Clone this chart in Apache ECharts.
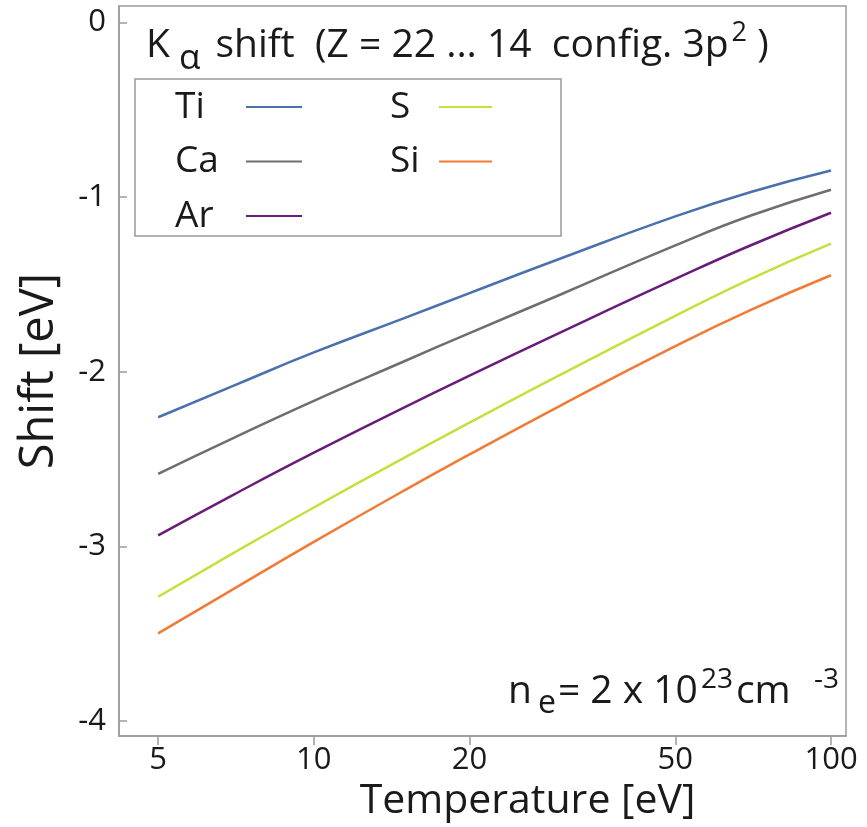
<!DOCTYPE html>
<html>
<head>
<meta charset="utf-8">
<script src="https://cdn.jsdelivr.net/npm/echarts@6/dist/echarts.min.js"></script>
<style>html,body{margin:0;padding:0;background:#fff}#c{width:867px;height:827px}</style>
</head>
<body>
<div id="c"></div>
<script>
// ---- data ----
var temps = [5, 7, 10, 15, 20, 30, 50, 70, 100];
var tiShift = [-2.260, -2.079, -1.889, -1.691, -1.549, -1.351, -1.110, -0.970, -0.847];
var caShift = [-2.584, -2.378, -2.166, -1.938, -1.778, -1.557, -1.276, -1.105, -0.957];
var arShift = [-2.937, -2.703, -2.463, -2.202, -2.022, -1.774, -1.468, -1.275, -1.089];
var sShift  = [-3.288, -3.037, -2.777, -2.490, -2.291, -2.016, -1.679, -1.467, -1.266];
var siShift = [-3.498, -3.243, -2.974, -2.677, -2.473, -2.193, -1.853, -1.645, -1.447];
var elements = ['Ti', 'Ca', 'Ar', 'S', 'Si'];
var xTicks = [5, 10, 20, 50, 100];
var yTicks = [-4, -3, -2, -1, 0];

var colors = ['#4a70ae', '#6e6e6e', '#6a1d78', '#c5e03c', '#f27a35'];
var FONT = 'Open Sans';
var allShifts = [tiShift, caShift, arShift, sShift, siShift];

function pairs(ys) { return temps.map(function (t, i) { return [t, ys[i]]; }); }

var series = elements.map(function (name, k) {
  return {
    name: name, type: 'line', smooth: true, showSymbol: false,
    data: pairs(allShifts[k]),
    lineStyle: { width: 2.5, color: colors[k] },
    itemStyle: { color: colors[k] }
  };
});

function legendText(w) {
  return {
    fontFamily: FONT, fontSize: 37, color: '#1a1a1a', lineHeight: 38,
    rich: { n: { fontFamily: FONT, fontSize: 37, color: '#1a1a1a', width: w, align: 'left', lineHeight: 38 } }
  };
}

var chart = echarts.init(document.getElementById('c'), null, { renderer: 'canvas' });
chart.setOption({
  backgroundColor: '#fff',
  animation: false,
  grid: { left: 119, right: 21, top: 6, bottom: 90, show: true, borderColor: '#9a9a9a', borderWidth: 1.5, backgroundColor: 'transparent' },
  title: {
    left: 146, top: 22, padding: 0,
    text: 'K{a|α} shift  (Z = 22 ... 14  config. 3p{s|2} )',
    textStyle: {
      fontFamily: FONT, fontSize: 39, fontWeight: 'normal', color: '#1a1a1a', lineHeight: 48,
      rich: {
        a: { fontFamily: FONT, fontSize: 35, color: '#1a1a1a', lineHeight: 22, padding: [26, 5, 0, 9] },
        s: { fontFamily: FONT, fontSize: 27, color: '#1a1a1a', lineHeight: 22, padding: [0, 0, 26, 3] }
      }
    }
  },
  legend: [
    {
      data: ['Ti', 'Ca', 'Ar'], orient: 'vertical', left: 175, top: 88, padding: 0,
      align: 'right', icon: 'rect', itemWidth: 56, itemHeight: 2, itemGap: 16.5,
      formatter: function (n) { return '{n|' + n + '}'; },
      textStyle: legendText(66)
    },
    {
      data: ['S', 'Si'], orient: 'vertical', left: 390, top: 88, padding: 0,
      align: 'right', icon: 'rect', itemWidth: 53, itemHeight: 2, itemGap: 16.5,
      formatter: function (n) { return '{n|' + n + '}'; },
      textStyle: legendText(44)
    }
  ],
  xAxis: {
    type: 'log', logBase: 10, min: 4.2, max: 106.9, position: 'bottom',
    name: 'Temperature [eV]', nameLocation: 'middle', nameGap: 40,
    nameTextStyle: { fontFamily: FONT, fontSize: 41, color: '#1a1a1a', padding: [0, 0, 0, 90] },
    axisLine: { show: true, onZero: false, lineStyle: { color: '#9a9a9a', width: 1.5 } },
    splitLine: { show: false },
    axisTick: { show: true, inside: false, length: 9, customValues: xTicks, lineStyle: { color: '#9a9a9a', width: 1.5 } },
    axisLabel: { customValues: xTicks, margin: 9, fontFamily: FONT, fontSize: 31, color: '#1a1a1a',
      formatter: function (v) { return String(Math.round(v)); } }
  },
  yAxis: {
    type: 'value', min: -4.086, max: 0.095, position: 'left',
    name: 'Shift [eV]', nameLocation: 'middle', nameGap: 56, nameRotate: 90,
    nameTextStyle: { fontFamily: FONT, fontSize: 47, color: '#1a1a1a' },
    axisLine: { show: true, onZero: false, lineStyle: { color: '#9a9a9a', width: 1.5 } },
    splitLine: { show: false },
    axisTick: { show: true, inside: false, length: -8, customValues: yTicks, lineStyle: { color: '#9a9a9a', width: 1.5 } },
    axisLabel: { customValues: yTicks, margin: 13, fontFamily: FONT, fontSize: 31, color: '#1a1a1a',
      formatter: function (v) { return String(Math.round(v)); } }
  },
  graphic: [
    { type: 'rect', z: 10, shape: { x: 135, y: 79, width: 426, height: 157 }, style: { fill: 'none', stroke: '#9a9a9a', lineWidth: 1.5 } },
    { type: 'text', z: 10, x: 508, y: 692,
      style: {
        text: 'n{e|e}= 2 x 10{s|23}cm  {s|-3}',
        fontFamily: FONT, fontSize: 39, fill: '#1a1a1a', verticalAlign: 'middle', lineHeight: 46,
        rich: {
          e: { fontFamily: FONT, fontSize: 32, fill: '#1a1a1a', lineHeight: 22, padding: [24, 2, 0, 6] },
          s: { fontFamily: FONT, fontSize: 28, fill: '#1a1a1a', lineHeight: 22, padding: [0, 3, 24, 3] }
        }
      }
    }
  ],
  series: series
});
</script>
</body>
</html>
